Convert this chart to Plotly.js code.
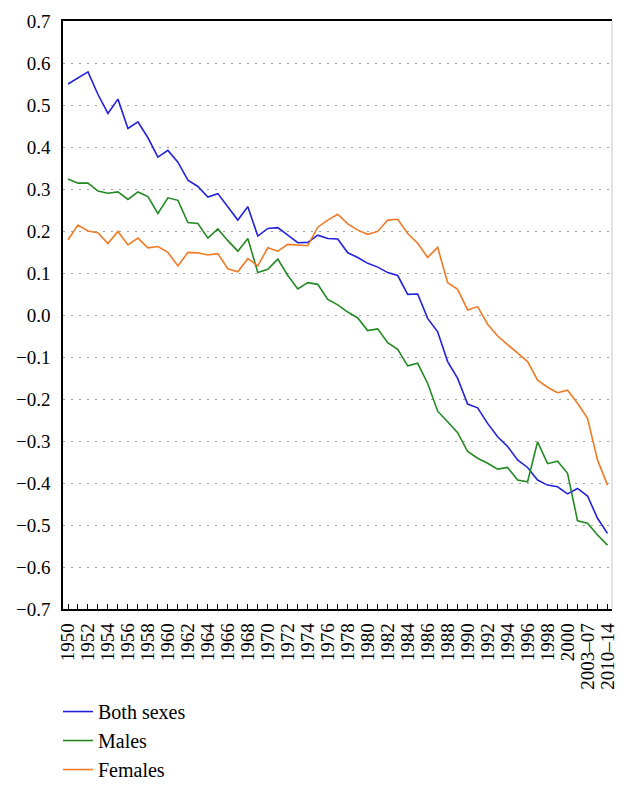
<!DOCTYPE html>
<html>
<head>
<meta charset="utf-8">
<script src="https://cdn.plot.ly/plotly-3.0.1.min.js"></script>
</head>
<body style="margin:0;background:#fff">
<div id="chart" style="width:627px;height:790px"></div>
<script>
// Categories (period labels)
const periods = [
  "1950","1951","1952","1953","1954","1955","1956","1957","1958","1959",
  "1960","1961","1962","1963","1964","1965","1966","1967","1968","1969",
  "1970","1971","1972","1973","1974","1975","1976","1977","1978","1979",
  "1980","1981","1982","1983","1984","1985","1986","1987","1988","1989",
  "1990","1991","1992","1993","1994","1995","1996","1997","1998","1999",
  "2000","2001–02","2003–07","2008–09","2010–14"
];

const bothSexes = [
  0.550,0.565,0.579,0.525,0.480,0.514,0.444,0.460,0.422,0.376,
  0.392,0.364,0.321,0.306,0.281,0.289,0.258,0.226,0.258,0.188,
  0.206,0.208,0.190,0.172,0.173,0.190,0.182,0.181,0.148,0.137,
  0.123,0.114,0.101,0.094,0.049,0.050,-0.008,-0.040,-0.111,-0.151,
  -0.212,-0.221,-0.258,-0.290,-0.313,-0.345,-0.363,-0.393,-0.405,-0.409,
  -0.426,-0.413,-0.431,-0.484,-0.520
];

const males = [
  0.324,0.314,0.314,0.295,0.290,0.293,0.275,0.293,0.282,0.242,
  0.279,0.273,0.220,0.218,0.183,0.205,0.177,0.152,0.182,0.101,
  0.109,0.133,0.094,0.062,0.077,0.073,0.037,0.024,0.007,-0.007,
  -0.037,-0.033,-0.066,-0.082,-0.121,-0.115,-0.163,-0.229,-0.254,-0.280,
  -0.325,-0.341,-0.353,-0.367,-0.363,-0.393,-0.397,-0.302,-0.354,-0.348,
  -0.377,-0.490,-0.496,-0.524,-0.548
];

const females = [
  0.179,0.214,0.200,0.196,0.170,0.199,0.167,0.183,0.160,0.163,
  0.149,0.117,0.149,0.148,0.143,0.146,0.110,0.103,0.134,0.117,
  0.160,0.152,0.168,0.167,0.165,0.209,0.226,0.240,0.217,0.202,
  0.192,0.199,0.226,0.228,0.194,0.171,0.137,0.161,0.077,0.061,
  0.012,0.020,-0.022,-0.050,-0.071,-0.091,-0.111,-0.155,-0.172,-0.185,
  -0.179,-0.210,-0.246,-0.345,-0.405
];

const yTicks = [-0.7,-0.6,-0.5,-0.4,-0.3,-0.2,-0.1,0.0,0.1,0.2,0.3,0.4,0.5,0.6,0.7];

const tickText = periods.map((p, i) => (i % 2 === 0 ? p : ""));

const traces = [
  {x: periods, y: bothSexes, name: "Both sexes", type: "scatter", mode: "lines",
   line: {color: "#2222dd", width: 1.6}},
  {x: periods, y: males, name: "Males", type: "scatter", mode: "lines",
   line: {color: "#238a23", width: 1.6}},
  {x: periods, y: females, name: "Females", type: "scatter", mode: "lines",
   line: {color: "#f07a25", width: 1.6}}
];

const layout = {
  width: 627, height: 790,
  margin: {l: 63, r: 15, t: 21, b: 181, autoexpand: false},
  paper_bgcolor: "#ffffff", plot_bgcolor: "#ffffff",
  font: {family: "Liberation Serif", size: 19, color: "#000"},
  showlegend: true,
  legend: {
    xref: "container", yref: "container",
    x: 0.0925, y: 0.124, xanchor: "left", yanchor: "top",
    font: {family: "Liberation Serif", size: 20, color: "#000"},
    bgcolor: "rgba(0,0,0,0)", borderwidth: 0
  },
  xaxis: {
    type: "category",
    categoryorder: "array", categoryarray: periods,
    range: [-0.5, 54.45],
    tickmode: "array", tickvals: periods, ticktext: tickText,
    tickangle: -90,
    ticks: "inside", ticklen: 5, tickwidth: 1, tickcolor: "#000",
    showline: true, linecolor: "#000", linewidth: 1.5, mirror: true,
    showgrid: false, zeroline: false, automargin: false,
    ticklabelstandoff: 5,
    tickfont: {family: "Liberation Serif", size: 19, color: "#000"}
  },
  yaxis: {
    range: [-0.7, 0.7],
    tickmode: "array", tickvals: yTicks,
    tickformat: ".1f",
    ticks: "",
    showline: true, linecolor: "#000", linewidth: 1.5,
    showgrid: true, gridcolor: "#a0a0a0", gridwidth: 1, griddash: "2px,6px",
    zeroline: false, automargin: false,
    ticklabelstandoff: 7,
    tickfont: {family: "Liberation Serif", size: 19, color: "#000"}
  },
  shapes: [
    {type: "line", xref: "paper", yref: "paper", x0: 1, x1: 1, y0: 0, y1: 1,
     line: {color: "#c8c8c8", width: 1}}
  ]
};

Plotly.newPlot("chart", traces, layout, {displayModeBar: false});
</script>
</body>
</html>
